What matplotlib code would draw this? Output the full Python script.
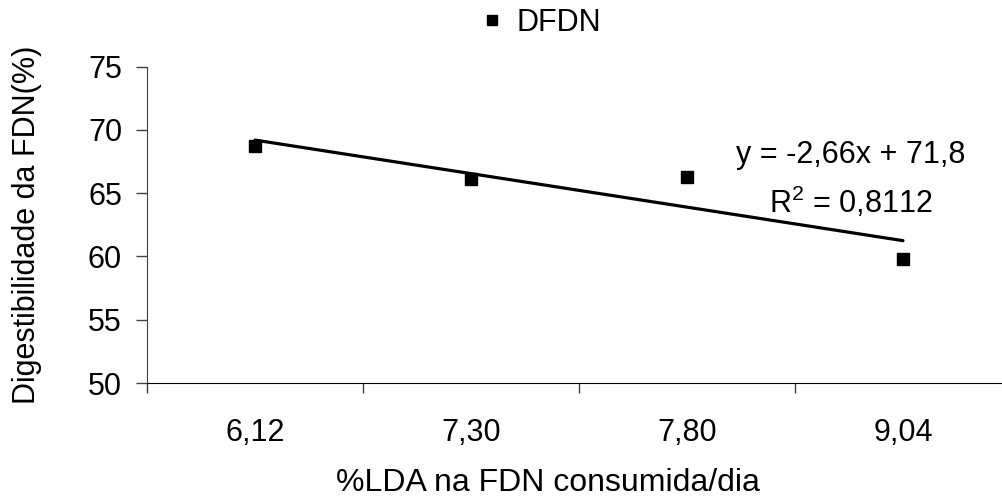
import numpy as np
import matplotlib
matplotlib.use("Agg")
import matplotlib.pyplot as plt

plt.rcParams['font.family'] = ['Liberation Sans', 'DejaVu Sans']

# data
categories = ['6,12', '7,30', '7,80', '9,04']
dfdn = [68.7, 66.1, 66.3, 59.8]
eq_text = 'y = -2,66x + 71,8'
r2_text = '$\\mathregular{R^2}$ = 0,8112'

x = np.arange(1, len(categories) + 1)
fs = 22

fig = plt.figure(figsize=(10.03, 4.98), dpi=100)
ax = fig.add_axes([147 / 1003, 1 - 383 / 498, 864 / 1003, (383 - 66.7) / 498])

pts, = ax.plot(x, dfdn, 's', color='black', markersize=8.5, label='DFDN', clip_on=False)

# linear trendline over category positions
slope, intercept = np.polyfit(x, dfdn, 1)
ax.plot(x[[0, -1]], slope * x[[0, -1]] + intercept, color='black', lw=2.3,
        solid_capstyle='round')

ax.set_xlim(0.5, len(categories) + 0.5)
ax.set_ylim(50, 75)
ax.set_yticks(np.arange(50, 76, 5))

# category boundaries get the tick marks, labels sit in between
ax.set_xticks(np.arange(0.5, len(categories) + 0.5, 1))
ax.set_xticklabels([])
ax.set_xticks(x, minor=True)
ax.set_xticklabels(categories, minor=True)
ax.tick_params(axis='x', which='major', direction='out', length=7, width=1, color='#404040')
ax.tick_params(axis='x', which='minor', length=0, pad=25, labelsize=fs)
ax.tick_params(axis='y', direction='out', length=8, width=1, color='#404040', labelsize=fs, pad=10)

for s in ['top', 'right']:
    ax.spines[s].set_visible(False)
ax.spines['left'].set_color('#404040')
ax.spines['bottom'].set_color('black')

ax.set_ylabel('Digestibilidade da FDN(%)', fontsize=fs, va='center')
ax.yaxis.set_label_coords((27 - 147) / 864, 0.5)
ax.set_xlabel('%LDA na FDN consumida/dia', fontsize=23, va='center')
ax.xaxis.set_label_coords((548 - 147) / 864, (383 - 483) / 316.3)

fig.text(851 / 1003, 1 - 155 / 498, eq_text, fontsize=fs, ha='center', va='center')
fig.text(851 / 1003, 1 - 202 / 498, r2_text, fontsize=fs, ha='center', va='center')

fig.legend(handles=[pts], loc='center', bbox_to_anchor=(540 / 1003, 1 - 23 / 498),
           frameon=False, fontsize=fs, handlelength=0.8, handletextpad=0.4,
           markerscale=0.9, borderpad=0)

fig.savefig('out.png', dpi=100)
